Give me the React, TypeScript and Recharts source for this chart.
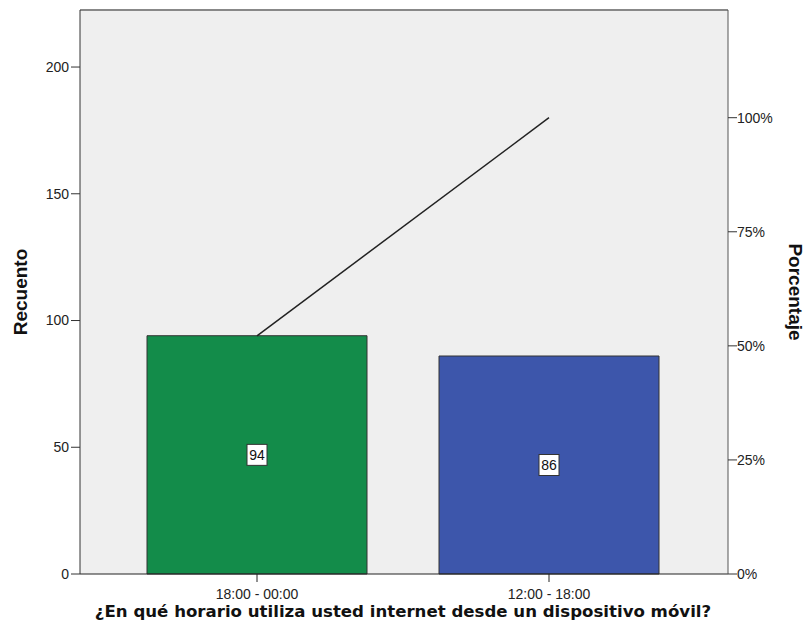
import React from 'react';
import {
  ComposedChart,
  Bar,
  Line,
  Cell,
  XAxis,
  YAxis,
  CartesianGrid,
  LabelList,
  ReferenceLine,
} from 'recharts';

// categories and values
const categories = ['18:00 - 00:00', '12:00 - 18:00'];
const counts = [94, 86];
const cumulativePct = [52.2, 100];
const barColors = ['#138c4a', '#3d56ab'];
const countTicks = [0, 50, 100, 150, 200];
const pctTicks = [0, 25, 50, 75, 100];

const COUNT_MAX = 222.5;
const PCT_MAX = 123.6;

const data = categories.map((name, i) => ({
  name,
  count: counts[i],
  cum: cumulativePct[i],
}));

const tickStyle = { fontSize: 14, fill: '#222', fontFamily: 'Liberation Sans, Arial, sans-serif' };

// boxed value label in the middle of each bar
const BoxLabel = (props: any) => {
  const { x, y, width, height, value } = props;
  const cx = x + width / 2;
  const cy = y + height / 2;
  return (
    <g>
      <rect x={cx - 10} y={cy - 10.5} width={20} height={21} fill="#fff" stroke="#333" strokeWidth={1} />
      <text
        x={cx}
        y={cy + 5}
        textAnchor="middle"
        fontSize={14}
        fontFamily="Liberation Sans, Arial, sans-serif"
        fill="#111"
      >
        {value}
      </text>
    </g>
  );
};

const XTitle = () => (
  <text
    x={403}
    y={617}
    textAnchor="middle"
    fontSize={16.6}
    fontWeight="bold"
    fontFamily="DejaVu Sans, Verdana, sans-serif"
    fill="#111"
  >
    ¿En qué horario utiliza usted internet desde un dispositivo móvil?
  </text>
);

export default function App() {
  return (
    <div style={{ position: 'absolute', left: 0, top: 0, background: '#fff' }}>
      <ComposedChart
        width={807}
        height={636}
        data={data}
        margin={{ top: 10, right: 29, left: 30, bottom: 32 }}
      >
        <CartesianGrid fill="#efefef" horizontal={false} vertical={false} />
        <XAxis
          dataKey="name"
          height={30}
          padding={{ left: 31, right: 33 }}
          tick={tickStyle}
          tickSize={8}
          tickMargin={7}
          axisLine={{ stroke: '#222' }}
          tickLine={{ stroke: '#222' }}
          label={{ content: <XTitle /> }}
        />
        <YAxis
          yAxisId="left"
          width={50}
          domain={[0, COUNT_MAX]}
          ticks={countTicks}
          tick={tickStyle}
          tickSize={9}
          tickMargin={2}
          axisLine={{ stroke: '#333' }}
          tickLine={{ stroke: '#333' }}
          label={{
            value: 'Recuento',
            angle: -90,
            position: 'center',
            dx: -35,
            style: { fontSize: 19, fontWeight: 'bold', fill: '#111', fontFamily: 'Liberation Sans, Arial, sans-serif' },
          }}
        />
        <YAxis
          yAxisId="right"
          orientation="right"
          width={50}
          domain={[0, PCT_MAX]}
          ticks={pctTicks}
          tickFormatter={(v: number) => `${v}%`}
          tick={tickStyle}
          tickSize={9}
          tickMargin={0}
          axisLine={{ stroke: '#555' }}
          tickLine={{ stroke: '#333' }}
          label={{
            value: 'Porcentaje',
            angle: 90,
            position: 'center',
            dx: 43,
            style: { fontSize: 19, fontWeight: 'bold', fill: '#111', fontFamily: 'Liberation Sans, Arial, sans-serif' },
          }}
        />
        <ReferenceLine yAxisId="left" y={COUNT_MAX} stroke="#888" strokeWidth={2} />
        <Bar
          yAxisId="left"
          dataKey="count"
          barSize={220}
          stroke="#333"
          strokeWidth={1}
          isAnimationActive={false}
        >
          {data.map((d, i) => (
            <Cell key={d.name} fill={barColors[i]} />
          ))}
          <LabelList dataKey="count" content={<BoxLabel />} />
        </Bar>
        <Line
          yAxisId="right"
          dataKey="cum"
          stroke="#222"
          strokeWidth={1.5}
          dot={false}
          activeDot={false}
          isAnimationActive={false}
        />
      </ComposedChart>
    </div>
  );
}
